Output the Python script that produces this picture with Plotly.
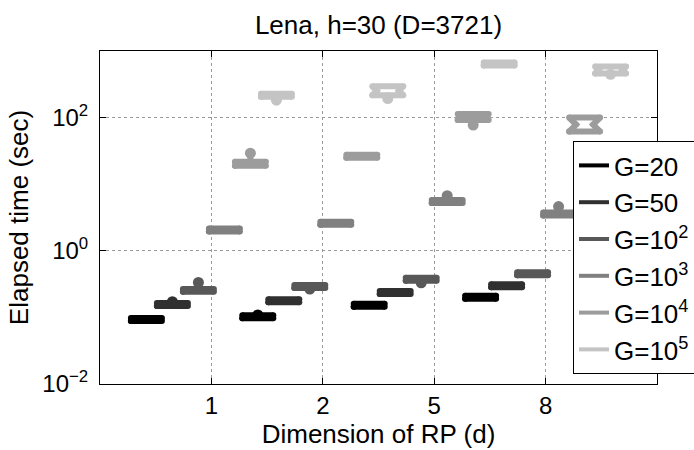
import math
import plotly.graph_objects as go

# ---------------- data ----------------
d_labels = ['1', '2', '5', '8']
g_names = ['G=20', 'G=50', 'G=10<sup>2</sup>', 'G=10<sup>3</sup>',
           'G=10<sup>4</sup>', 'G=10<sup>5</sup>']
g_colors = ['#000000', '#303030', '#585858', '#808080', '#9c9c9c', '#c4c4c4']

# box statistics, rows = G, columns = d (1, 2, 5, 8)
median_vals = [
    [0.0933, 0.1024, 0.152, 0.201],
    [0.156, 0.1775, 0.236, 0.2985],
    [0.2547, 0.290, 0.3728, 0.4535],
    [2.058, 2.591, 5.482, 3.566],
    [20.4, 26.36, 101.7, 78.6],
    [216.7, 253.0, 640.0, 520.0],
]
q1_vals = [
    [0.0886, 0.0973, 0.1444, 0.191],
    [0.148, 0.1686, 0.224, 0.2835],
    [0.242, 0.2757, 0.354, 0.4307],
    [1.954, 2.461, 5.206, 3.387],
    [19.0, 25.03, 91.8, 61.8],
    [205.8, 216.7, 608.0, 461.0],
]
q3_vals = [
    [0.0983, 0.1078, 0.160, 0.2116],
    [0.164, 0.1869, 0.2485, 0.3143],
    [0.268, 0.3054, 0.3926, 0.4776],
    [2.167, 2.729, 5.773, 3.755],
    [21.8, 27.75, 112.8, 100.0],
    [228.2, 295.0, 674.0, 587.0],
]
whisker_low = [
    [0.0886, 0.0973, 0.1444, 0.191],
    [0.148, 0.1686, 0.224, 0.2835],
    [0.242, 0.266, 0.3307, 0.4307],
    [1.954, 2.461, 5.206, 3.387],
    [19.0, 25.03, 77.3, 61.8],
    [182.5, 193.5, 608.0, 446.0],
]
whisker_high = [
    [0.0983, 0.109, 0.160, 0.2094],
    [0.172, 0.1869, 0.2485, 0.3143],
    [0.3355, 0.3054, 0.3926, 0.4776],
    [2.167, 2.729, 6.73, 4.61],
    [29.2, 27.75, 112.8, 100.0],
    [228.2, 295.0, 674.0, 587.0],
]

# ---------------- geometry ----------------
X_RANGE = [0, 5]
Y_RANGE = [-2, 3]
PLOT_W = 557
PLOT_H = 333
ux = (X_RANGE[1] - X_RANGE[0]) / PLOT_W          # data units per pixel (x)
px_per_dec = PLOT_H / (Y_RANGE[1] - Y_RANGE[0])  # pixels per decade (y)

step = 26 * ux
half_w = 15.5 * ux
LW = 6
END_SIZE = 11

fig = go.Figure()

for gi, (name, col) in enumerate(zip(g_names, g_colors)):
    xs, ys = [], []
    ex, ey = [], []
    for di in range(len(d_labels)):
        xc = di + 1 + (gi - 2.5) * step
        q1 = q1_vals[gi][di]
        q3 = q3_vals[gi][di]
        md = median_vals[gi][di]
        lo = whisker_low[gi][di]
        hi = whisker_high[gi][di]
        box_px = px_per_dec * (math.log10(q3) - math.log10(q1))
        notch = min(0.5 * box_px, 8) * ux
        # notched box outline
        xs += [xc - half_w, xc + half_w, xc + half_w - notch, xc + half_w,
               xc - half_w, xc - half_w + notch, xc - half_w, None]
        ys += [q1, q1, md, q3, q3, md, q1, None]
        if hi > q3 * 1.001:
            xs += [xc, xc, None]
            ys += [q3, hi, None]
            ex.append(xc)
            ey.append(hi)
        if lo < q1 / 1.001:
            xs += [xc, xc, None]
            ys += [q1, lo, None]
            ex.append(xc)
            ey.append(lo)
    fig.add_trace(go.Scatter(
        x=xs, y=ys, mode='lines+markers', showlegend=False,
        line=dict(color=col, width=LW),
        marker=dict(color=col, size=LW, line=dict(width=0)),
        hoverinfo='skip'))
    if ex:
        fig.add_trace(go.Scatter(
            x=ex, y=ey, mode='markers', showlegend=False,
            marker=dict(color=col, size=END_SIZE, line=dict(width=0)),
            hoverinfo='skip'))

for name, col in zip(g_names, g_colors):
    fig.add_trace(go.Scatter(
        x=[None], y=[None], mode='lines', name=name,
        line=dict(color=col, width=4)))

FONT = 'Liberation Sans, Arial, sans-serif'
axis_common = dict(
    showline=True, linecolor='black', linewidth=1, mirror='ticks',
    ticks='inside', ticklen=6, tickcolor='black', tickwidth=1,
    showgrid=True, gridcolor='#9a9a9a', gridwidth=1, griddash='dot',
    zeroline=False, automargin=False,
    tickfont=dict(family=FONT, size=24, color='black'),
)

fig.update_layout(
    width=694, height=450,
    margin=dict(l=100, r=37, t=51, b=66, autoexpand=False),
    paper_bgcolor='white', plot_bgcolor='white',
    font=dict(family=FONT, color='black'),
    title=dict(text='Lena, h=30 (D=3721)', x=(100 + 278.5) / 694, xanchor='center',
               yref='container', y=1 - 25 / 450, yanchor='middle',
               font=dict(family=FONT, size=26, color='black')),
    xaxis=dict(range=X_RANGE, tickmode='array', tickvals=[1, 2, 3, 4],
               ticktext=d_labels,
               title=dict(text='Dimension of RP (d)', standoff=0,
                          font=dict(family=FONT, size=26, color='black')),
               **axis_common),
    yaxis=dict(type='log', range=Y_RANGE, tickmode='array',
               tickvals=[0.01, 1, 100],
               ticktext=['10<sup>\u22122</sup>', '10<sup>0</sup>', '10<sup>2</sup>'],
               ticklabelstandoff=6,
               title=dict(text='Elapsed time (sec)', standoff=6,
                          font=dict(family=FONT, size=26, color='black')),
               **axis_common),
    legend=dict(x=(573 - 100) / PLOT_W, xanchor='left',
                y=(384 - 141) / PLOT_H, yanchor='top',
                bgcolor='white', bordercolor='black', borderwidth=1,
                font=dict(family=FONT, size=26, color='black'),
                tracegroupgap=0),
)

fig.write_html('out.html')
